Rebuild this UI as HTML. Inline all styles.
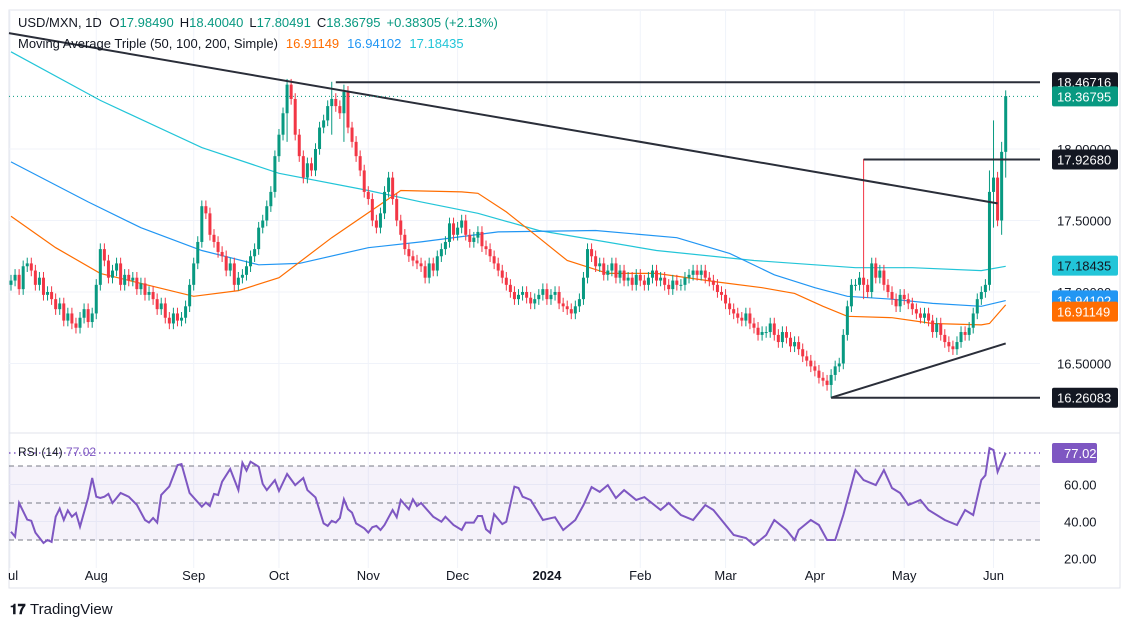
<!DOCTYPE html>
<html><head><meta charset="utf-8">
<style>
body{margin:0;background:#fff;font-family:"Liberation Sans",sans-serif;}
#wrap{position:relative;width:1131px;height:626px;overflow:hidden;}
svg text{font-family:"Liberation Sans",sans-serif;}
</style></head>
<body>
<div id="wrap">
<svg id="chart" width="1131" height="626" viewBox="0 0 1131 626">
  <rect x="9" y="10" width="1111" height="578" fill="#fff" stroke="#e0e3eb"/>
  <g id="grid"></g>
  <rect x="9" y="466" width="1031" height="74" fill="#7e57c2" fill-opacity="0.08"/>
  <line x1="9" y1="433" x2="1120" y2="433" stroke="#e0e3eb"/>
  <g id="mas"></g>
  <g id="candles"></g>
  <g id="draw"></g>
  <g id="rsi"></g>
  <g id="axis"></g>
  <text x="18" y="27" font-size="13" fill="#131722">USD/MXN, 1D <tspan fill="#131722" dx="4">O</tspan><tspan fill="#089981">17.98490</tspan><tspan fill="#131722" dx="6">H</tspan><tspan fill="#089981">18.40040</tspan><tspan fill="#131722" dx="6">L</tspan><tspan fill="#089981">17.80491</tspan><tspan fill="#131722" dx="6">C</tspan><tspan fill="#089981">18.36795</tspan><tspan fill="#089981" dx="6">+0.38305 (+2.13%)</tspan></text>
  <text x="18" y="48" font-size="13" fill="#131722">Moving Average Triple (50, 100, 200, Simple)<tspan fill="#ff6d00" dx="8">16.91149</tspan><tspan fill="#2196f3" dx="8">16.94102</tspan><tspan fill="#22c5d8" dx="8">17.18435</tspan></text>
  <text x="18" y="456" font-size="12" fill="#131722">RSI (14) <tspan fill="#7e57c2">77.02</tspan></text>
  <g>
    <text x="10" y="614" font-size="14" font-weight="bold" fill="#131722">𝟏𝟕</text>
    <text x="30" y="614" font-size="15" fill="#131722">TradingView</text>
  </g>
</svg>
</div>
<script>
const closes=[17.08,17.12,17.02,17.18,17.20,17.15,17.05,17.10,16.98,17.00,16.95,16.88,16.92,16.80,16.85,16.78,16.75,16.82,16.88,16.79,16.85,17.05,17.30,17.22,17.10,17.15,17.20,17.05,17.12,17.08,17.10,17.02,17.06,16.98,17.00,16.95,16.88,16.92,16.82,16.78,16.85,16.80,16.82,16.90,17.05,17.20,17.35,17.60,17.55,17.40,17.35,17.28,17.25,17.15,17.20,17.05,17.10,17.12,17.18,17.25,17.30,17.45,17.50,17.60,17.70,17.95,18.10,18.25,18.45,18.35,18.10,17.95,17.80,17.90,17.85,18.00,18.15,18.20,18.30,18.35,18.30,18.25,18.40,18.15,18.05,17.95,17.85,17.70,17.65,17.50,17.45,17.55,17.70,17.80,17.65,17.50,17.40,17.30,17.25,17.22,17.20,17.18,17.10,17.20,17.15,17.25,17.30,17.35,17.48,17.40,17.45,17.50,17.40,17.35,17.38,17.42,17.32,17.30,17.25,17.20,17.15,17.10,17.05,17.00,16.95,16.98,17.00,16.96,16.92,16.95,16.98,17.02,16.95,16.98,17.00,16.92,16.90,16.88,16.85,16.90,16.95,17.10,17.30,17.25,17.18,17.20,17.12,17.15,17.20,17.10,17.15,17.08,17.10,17.05,17.12,17.08,17.05,17.10,17.15,17.08,17.10,17.05,17.02,17.08,17.05,17.05,17.10,17.12,17.15,17.12,17.15,17.10,17.08,17.05,17.00,16.98,16.92,16.88,16.85,16.82,16.80,16.85,16.78,16.75,16.70,16.72,16.72,16.78,16.70,16.65,16.72,16.68,16.62,16.65,16.60,16.55,16.52,16.48,16.45,16.40,16.38,16.35,16.42,16.48,16.50,16.70,16.90,17.05,17.05,17.10,17.05,17.00,17.20,17.10,17.15,17.05,17.00,16.95,16.90,16.98,16.95,16.92,16.88,16.85,16.82,16.85,16.80,16.72,16.78,16.70,16.65,16.62,16.60,16.65,16.72,16.70,16.75,16.85,16.95,17.00,17.05,17.70,17.80,17.50,17.98,18.37];
const firstOpen=17.05;
const spikeIdx=[68,79,82,202,210,241,242,244,245];
const spikeHigh=[18.49,18.47,18.45,16.40,17.93,17.85,18.20,18.05,18.40];
const spikeLow=[18.05,18.10,18.05,16.26,16.95,17.05,17.45,17.40,17.80];
const ma50Idx=[0,11,22,45,56,66,79,96,111,115,122,130,137,147,159,174,185,193,200,206,217,227,239,241,245];
const ma50Val=[17.53,17.31,17.13,16.97,17.01,17.10,17.38,17.71,17.70,17.69,17.56,17.38,17.22,17.13,17.13,17.07,17.03,16.99,16.90,16.83,16.82,16.78,16.77,16.78,16.91];
const ma100Idx=[0,19,32,47,61,71,88,101,120,144,164,177,188,198,206,217,227,239,245];
const ma100Val=[17.91,17.63,17.45,17.29,17.19,17.20,17.31,17.35,17.42,17.43,17.38,17.27,17.12,17.03,16.97,16.95,16.92,16.90,16.94];
const ma200Idx=[0,22,47,66,88,101,115,130,159,183,208,222,239,245];
const ma200Val=[18.68,18.34,18.01,17.83,17.71,17.63,17.55,17.43,17.29,17.22,17.17,17.17,17.15,17.18];
const rsiIdx=[0,1,2,4,5,6,8,9,10,11,12,13,14,15,16,17,19,20,21,22,23,24,25,27,29,31,33,34,35,36,37,39,41,42,44,47,48,49,50,51,52,54,56,57,58,59,61,62,63,65,66,68,70,72,73,75,77,78,79,80,81,82,83,84,85,87,88,89,90,91,92,94,95,96,98,99,100,101,104,106,107,109,111,112,114,115,116,117,118,119,121,122,124,125,126,128,131,134,136,139,141,143,145,147,149,151,154,156,160,162,165,168,171,173,176,178,181,183,186,188,191,193,194,197,199,201,203,205,208,210,213,215,217,219,221,224,226,230,233,235,237,239,240,241,242,243,244,245];
const rsiVal=[34.5,31.8,50,41,40.4,34,28.4,30,29,42.6,47,40.8,46,42.6,44.6,37.2,52.7,63.5,53.4,52.7,53.4,54.9,50,55.4,53.4,49,40.8,39.4,41.9,39.4,54.3,59,70.5,71,55.4,48,50.2,48.4,54.9,54.3,61.5,68.4,57,71.8,67.5,72.3,69.6,60.3,57,62.4,56.5,65.7,59.7,63.5,57,53,39,37.6,40.4,39.4,41.9,52,46.6,44.8,39,36.3,34,36.9,37.6,35.4,38.1,46.2,42.3,51.6,46.6,52,48.4,50,42.6,39.9,42.6,38.1,35.4,39.4,39.4,43,43,35.8,33.9,44,38.6,39.9,58.8,58.1,53.4,51.6,40.8,42.3,35.4,40.8,48.9,58.6,56,59.7,52.7,57,51.6,53.2,46.2,50,43.5,40.8,48.9,46.2,38.1,32.7,31.1,27.3,32.7,40.8,35.4,30,35.4,40.8,38.1,30,30,43.5,67.8,62.4,59.7,67.8,58.1,55.4,48.9,51.6,46.2,40.8,38.1,46.2,43.5,62.4,65,79.7,78.6,66.8,72,77.02];
const monthLabels=["Jul","Aug","Sep","Oct","Nov","Dec","2024","Feb","Mar","Apr","May","Jun"];
const monthIdx=[0,21,45,66,88,110,132,155,176,198,220,242];
const priceTicks=[18.0,17.5,17.0,16.5];
const rsiTicks=[80,60,40,20];

const NS="http://www.w3.org/2000/svg";
const X=i=>11+i*4.06, Y=p=>149-(p-18)*143, RY=r=>503-(r-50)*1.85;
function mk(tag,attrs,parent){const e=document.createElementNS(NS,tag);for(const k in attrs)e.setAttribute(k,attrs[k]);parent.appendChild(e);return e;}
const grid=document.getElementById('grid'),cg=document.getElementById('candles'),mg=document.getElementById('mas'),dg=document.getElementById('draw'),rg=document.getElementById('rsi'),ag=document.getElementById('axis');

priceTicks.forEach(p=>{const l=mk('line',{x1:9,x2:1040,y1:Y(p),y2:Y(p),stroke:'#f0f3fa'},grid);

});
[60,40].forEach(r=>{const l=mk('line',{x1:9,x2:1040,y1:RY(r),y2:RY(r),stroke:'#f0f3fa'},grid);

});
monthIdx.forEach((m,k)=>{const x=k==0?10:X(m);const l=mk('line',{x1:x,x2:x,y1:10,y2:568,stroke:'#f0f3fa'},grid);


const t=mk('text',{x:k==0?8:x,y:580,'font-size':13,fill:'#131722','text-anchor':k==0?'start':'middle','font-weight':monthLabels[k]=='2024'?'bold':'normal'},ag);
t.textContent=k==0?'ul':monthLabels[k];

});

function maLine(idx,val,color,name){let d='';idx.forEach((i,k)=>{d+=(k?'L':'M')+X(i).toFixed(1)+' '+Y(val[k]).toFixed(1);});
const p=mk('path',{d:d,fill:'none',stroke:color,'stroke-width':1.2},mg);

}
maLine(ma200Idx,ma200Val,'#22c5d8','ma-200-line');
maLine(ma100Idx,ma100Val,'#2196f3','ma-100-line');
maLine(ma50Idx,ma50Val,'#ff6d00','ma-50-line');

closes.forEach((c,i)=>{const o=i?closes[i-1]:firstOpen;const up=c>=o;const col=up?'#089981':'#f23645';
let hi=Math.max(o,c)+0.04,lo=Math.min(o,c)-0.04;const s=spikeIdx.indexOf(i);if(s>=0){hi=Math.max(hi,spikeHigh[s]);lo=Math.min(lo,spikeLow[s]);}
const x=X(i);const w=mk('line',{x1:x,x2:x,y1:Y(hi),y2:Y(lo),stroke:col,'stroke-width':1},cg);


const yt=Y(Math.max(o,c)),yb=Y(Math.min(o,c));const b=mk('rect',{x:x-1.5,y:yt,width:3,height:Math.max(1,yb-yt),fill:col},cg);

});

function seg(i1,p1,i2,p2,name,w){const l=mk('line',{x1:X(i1),y1:Y(p1),x2:i2===null?1040:X(i2),y2:Y(p2),stroke:'#2a2e39','stroke-width':w||2},dg);

}
seg(-0.5,18.81,243,17.62,'resistance-trendline');
seg(80,18.46716,null,18.46716,'resistance-18-46716');
seg(210,17.9268,null,17.9268,'level-17-9268');
seg(202,16.26083,null,16.26083,'support-16-26083');
seg(202,16.26083,245,16.64,'support-trendline');
const dl=mk('line',{x1:9,x2:1040,y1:Y(18.36795),y2:Y(18.36795),stroke:'#089981','stroke-dasharray':'1 3'},dg);



[70,50,30].forEach(r=>{const l=mk('line',{x1:9,x2:1040,y1:RY(r),y2:RY(r),stroke:'#787b86','stroke-dasharray':'5 4'},rg);

});
const rl=mk('line',{x1:9,x2:1040,y1:RY(77.02),y2:RY(77.02),stroke:'#7e57c2','stroke-dasharray':'1.5 3.5','stroke-width':1.5},rg);


let rd='';rsiIdx.forEach((i,k)=>{rd+=(k?'L':'M')+X(i).toFixed(1)+' '+RY(rsiVal[k]).toFixed(1);});
const rp=mk('path',{d:rd,fill:'none',stroke:'#7e57c2','stroke-width':2},rg);



priceTicks.forEach(p=>{const t=mk('text',{x:1057,y:Y(p)+5,'font-size':13,fill:'#131722'},ag);t.textContent=p.toFixed(5);

});
rsiTicks.forEach(r=>{const t=mk('text',{x:1064,y:RY(r)+5,'font-size':13,fill:'#131722'},ag);t.textContent=r.toFixed(2);

});
function tag(yc,txt,bg,fg,name,w){const r=mk('rect',{x:1052,y:yc-10,width:w||66,height:20,rx:2,fill:bg},ag);


const t=mk('text',{x:1057,y:yc+5,'font-size':13,fill:fg},ag);t.textContent=txt;

}
tag(Y(18.46716),'18.46716','#131722','#fff','label-18-46716');
tag(Y(18.36795),'18.36795','#089981','#fff','last-price-label');
tag(Y(17.9268),'17.92680','#131722','#fff','label-17-92680');
tag(Y(17.18435),'17.18435','#22c5d8','#131722','ma-200-label');
tag(Y(16.94102),'16.94102','#2196f3','#fff','ma-100-label');
tag(Y(16.91149)+7,'16.91149','#ff6d00','#fff','ma-50-label');
tag(Y(16.26083),'16.26083','#131722','#fff','label-16-26083');
const rr=mk('rect',{x:1052,y:RY(77.02)-10,width:45,height:20,rx:2,fill:'#7e57c2'},ag);


const rt=mk('text',{x:1064,y:RY(77.02)+5,'font-size':13,fill:'#fff'},ag);rt.textContent='77.02';


</script>
</body></html>
